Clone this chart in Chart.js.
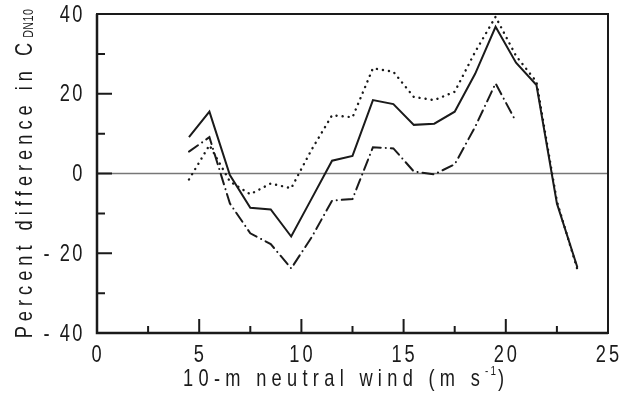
<!DOCTYPE html>
<html>
<head>
<meta charset="utf-8">
<script src="https://cdn.jsdelivr.net/npm/chart.js@4.4.0/dist/chart.umd.min.js"></script>
<style>
  html, body { margin: 0; padding: 0; background: #fff; }
</style>
</head>
<body>
<canvas id="chart" width="628" height="407"></canvas>
<script>
// values (wind bins in m/s, percent difference)
const windSpeed = [4.5, 5.5, 6.5, 7.5, 8.5, 9.5, 10.5, 11.5, 12.5, 13.5, 14.5, 15.5, 16.5, 17.5, 18.5, 19.5, 20.5, 21.5, 22.5, 23.5];
const solidDiff = [9.1, 15.5, -0.4, -8.6, -9.0, -15.8, -6.3, 3.2, 4.4, 18.4, 17.4, 12.2, 12.5, 15.5, 25.0, 36.8, 27.8, 22.2, -7.5, -23.5];
const dottedDiff = [-1.5, 7.1, -2.0, -5.2, -2.5, -3.7, 6.0, 14.6, 14.1, 26.4, 25.5, 19.2, 18.4, 20.5, 30.5, 39.3, 29.5, 23.0, -7.0, -24.0];
const dashDotDiff = [5.5, 9.1, -7.5, -15.0, -17.7, -23.8, -16.0, -6.8, -6.4, 6.6, 6.3, 0.5, -0.2, 2.3, 11.7, 22.6, 13.0];

const xTicks = [0, 5, 10, 15, 20, 25];
const xMinorTicks = [2.5, 7.5, 12.5, 17.5, 22.5];
const yTicks = [-40, -20, 0, 20, 40];
const yMinorTicks = [-30, -10, 10, 30];

const FONT = '"Liberation Sans", Arial, sans-serif';
const INK = "#1a1a1a";
const SQUEEZE = 0.76; // the original lettering is a narrow face

const toPoints = (ys) => ys.map((y, i) => ({ x: windSpeed[i], y: y }));

// draw a string one glyph at a time, squeezed and letter-spaced like the figure
function spaced(ctx, parts, x, y, align) {
  let total = 0;
  parts.forEach(p => {
    ctx.font = p.font;
    for (const ch of p.text) total += ctx.measureText(ch).width * SQUEEZE + p.gap;
  });
  let cx = align === "center" ? x - total / 2 : align === "right" ? x - total : x;
  ctx.textAlign = "left";
  parts.forEach(p => {
    ctx.font = p.font;
    for (const ch of p.text) {
      ctx.save();
      ctx.translate(cx, y + (p.dy || 0));
      ctx.scale(SQUEEZE, 1);
      ctx.fillText(ch, 0, 0);
      ctx.restore();
      cx += ctx.measureText(ch).width * SQUEEZE + p.gap;
    }
  });
}

const framePlugin = {
  id: "frame",
  beforeDatasetsDraw(chart) {
    const { ctx, chartArea: a, scales } = chart;
    const y0 = scales.y.getPixelForValue(0);
    ctx.save();
    ctx.strokeStyle = "#777";
    ctx.lineWidth = 1.5;
    ctx.beginPath();
    ctx.moveTo(a.left, y0);
    ctx.lineTo(a.right, y0);
    ctx.stroke();
    ctx.restore();
  },
  afterDatasetsDraw(chart) {
    const { ctx, chartArea: a, scales } = chart;
    const xs = scales.x, ys = scales.y;
    ctx.save();
    ctx.strokeStyle = INK;
    // box
    ctx.lineWidth = 2;
    ctx.strokeRect(a.left, a.top, a.right - a.left, a.bottom - a.top);
    ctx.lineWidth = 2.5;
    ctx.beginPath();
    ctx.moveTo(a.left, a.top);
    ctx.lineTo(a.left, a.bottom);
    ctx.lineTo(a.right, a.bottom);
    ctx.stroke();

    // inward ticks
    ctx.lineWidth = 2;
    ctx.beginPath();
    yTicks.forEach(v => {
      const p = ys.getPixelForValue(v);
      ctx.moveTo(a.left, p); ctx.lineTo(a.left + 15, p);
    });
    yMinorTicks.forEach(v => {
      const p = ys.getPixelForValue(v);
      ctx.moveTo(a.left, p); ctx.lineTo(a.left + 8, p);
    });
    xTicks.forEach(v => {
      if (v === xs.min || v === xs.max) return;
      const p = xs.getPixelForValue(v);
      ctx.moveTo(p, a.bottom); ctx.lineTo(p, a.bottom - 14);
    });
    xMinorTicks.forEach(v => {
      const p = xs.getPixelForValue(v);
      ctx.moveTo(p, a.bottom); ctx.lineTo(p, a.bottom - 7);
    });
    ctx.stroke();

    // tick labels
    ctx.fillStyle = INK;
    ctx.textBaseline = "middle";
    const tickFont = "24px " + FONT;
    yTicks.forEach(v => {
      const txt = v < 0 ? "- " + Math.abs(v) : String(v);
      spaced(ctx, [{ text: txt, font: tickFont, gap: 2.5 }], a.left - 12, ys.getPixelForValue(v) + 1, "right");
    });
    xTicks.forEach(v => {
      spaced(ctx, [{ text: String(v), font: tickFont, gap: 3 }], xs.getPixelForValue(v) + 1, a.bottom + 22, "center");
    });

    // axis titles
    spaced(ctx, [
      { text: "10-m neutral wind (m s", font: "24px " + FONT, gap: 5.3 },
      { text: "-1", font: "13px " + FONT, gap: 2, dy: -8 },
      { text: ")", font: "24px " + FONT, gap: 4 }
    ], (a.left + a.right) / 2 - 7, 379, "center");

    ctx.translate(25, (a.top + a.bottom) / 2);
    ctx.rotate(-Math.PI / 2);
    spaced(ctx, [
      { text: "Percent difference in C", font: "24px " + FONT, gap: 5 },
      { text: "DN10", font: "14px " + FONT, gap: 0.5, dy: 4 }
    ], 0, 0, "center");
    ctx.restore();
  }
};

const lineStyle = {
  borderColor: INK,
  borderWidth: 2,
  pointRadius: 0,
  fill: false,
  tension: 0
};

new Chart(document.getElementById("chart").getContext("2d"), {
  type: "line",
  data: {
    datasets: [
      Object.assign({ label: "solid", data: toPoints(solidDiff) }, lineStyle),
      Object.assign({ label: "dotted", data: toPoints(dottedDiff), borderDash: [0.1, 6], borderCapStyle: "round" }, lineStyle, { borderWidth: 2.4 }),
      Object.assign({ label: "dash-dot", data: toPoints(dashDotDiff), borderDash: [11, 5, 0.1, 5], borderCapStyle: "round" }, lineStyle)
    ]
  },
  options: {
    responsive: false,
    animation: false,
    layout: { padding: { left: 97, right: 20, top: 14, bottom: 74 } },
    scales: {
      x: { type: "linear", min: 0, max: 25, display: false },
      y: { type: "linear", min: -40, max: 40, display: false }
    },
    plugins: {
      legend: { display: false },
      tooltip: { enabled: false }
    }
  },
  plugins: [framePlugin]
});
</script>
</body>
</html>
